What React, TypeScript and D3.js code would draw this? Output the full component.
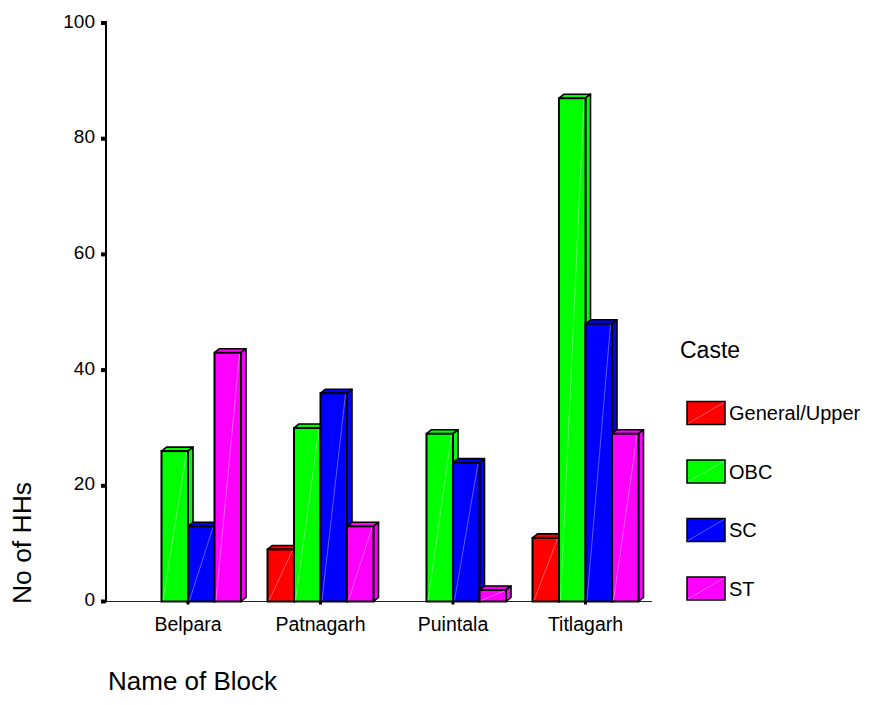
import React from "react";
import * as d3 from "d3";

// Households by caste across four blocks
const blocks = ["Belpara", "Patnagarh", "Puintala", "Titlagarh"];
const castes = ["General/Upper", "OBC", "SC", "ST"];
const generalUpper = [0, 9, 0, 11];
const obc = [26, 30, 29, 87];
const sc = [13, 36, 24, 48];
const st = [43, 13, 2, 29];
const casteColors = ["#ff0000", "#00ff00", "#0000ff", "#ff00ff"];
const yTicks = [0, 20, 40, 60, 80, 100];

const seriesValues = [generalUpper, obc, sc, st];

const W = 871;
const H = 705;
const FONT = "'Liberation Sans', Arial, Helvetica, sans-serif";
const DX = 5; // depth offset to the right
const DY = 4; // depth offset upward

export default function App() {
  const y = d3.scaleLinear().domain([0, 100]).range([601.5, 23]);
  const x0 = d3
    .scaleBand<string>()
    .domain(blocks)
    .range([121.75, 651.75])
    .paddingInner(0.2)
    .paddingOuter(0.1);
  const x1 = d3.scaleBand<string>().domain(castes).range([0, x0.bandwidth()]);
  const axisX = 106;
  const base = y(0);

  const bars: React.ReactNode[] = [];
  blocks.forEach((b, bi) => {
    castes.forEach((c, ci) => {
      const v = seriesValues[ci][bi];
      if (!v) return;
      const left = (x0(b) as number) + (x1(c) as number);
      const right = left + x1.bandwidth();
      const top = y(v);
      const col = casteColors[ci];
      const topFace = `M${left},${top} L${left + DX},${top - DY} L${right + DX},${top - DY} L${right},${top} Z`;
      const sideFace = `M${right},${top} L${right + DX},${top - DY} L${right + DX},${base - DY} L${right},${base} Z`;
      bars.push(
        <g key={`${b}-${c}`}>
          <path d={topFace} fill={col} stroke="#000" strokeWidth={1.6} strokeLinejoin="round" />
          <path d={sideFace} fill={col} stroke="#000" strokeWidth={1.6} strokeLinejoin="round" />
          <rect x={left} y={top} width={right - left} height={base - top} fill={col} stroke="#000" strokeWidth={2} />
          <line x1={left + 1.5} y1={base - 1} x2={right - 1.5} y2={top + 1} stroke="#fff" strokeOpacity={0.45} strokeWidth={0.8} />
        </g>
      );
    });
  });

  const legendX = 687;
  const legendY0 = 401.5;
  const legendStep = 58.5;

  return (
    <svg
      width={W}
      height={H}
      viewBox={`0 0 ${W} ${H}`}
      style={{ position: "absolute", left: 0, top: 0, background: "#fff" }}
      fontFamily={FONT}
    >
      <rect width={W} height={H} fill="#fff" />
      {/* x baseline */}
      <line x1={axisX} y1={base} x2={652} y2={base} stroke="#222" strokeWidth={1.2} />
      {bars}
      {/* y axis */}
      <line x1={axisX} y1={y(100) - 2} x2={axisX} y2={base + 1} stroke="#000" strokeWidth={2} />
      {yTicks.map((t) => (
        <g key={t}>
          <rect x={axisX - 5} y={y(t) - 2} width={4.5} height={4} fill="#000" />
          <text x={axisX - 11} y={y(t) - 2} dy="0.35em" textAnchor="end" fontSize={19} fill="#000">
            {t}
          </text>
        </g>
      ))}
      {/* block ticks and labels */}
      {blocks.map((b) => {
        const cx = (x0(b) as number) + x0.bandwidth() / 2;
        return (
          <g key={b}>
            <rect x={cx - 1.5} y={base} width={3} height={3} fill="#000" />
            <text x={cx} y={631} textAnchor="middle" fontSize={19.5} fill="#000">
              {b}
            </text>
          </g>
        );
      })}
      {/* axis titles */}
      <text transform="translate(31,543) rotate(-90)" textAnchor="middle" fontSize={26.5} fill="#000">
        No of HHs
      </text>
      <text x={108} y={690} fontSize={26} fill="#000">
        Name of Block
      </text>
      {/* legend */}
      <text x={680} y={358} fontSize={23} fill="#000">
        Caste
      </text>
      {castes.map((c, i) => {
        const ly = legendY0 + i * legendStep;
        return (
          <g key={c}>
            <rect x={legendX} y={ly} width={38} height={23} fill={casteColors[i]} stroke="#000" strokeWidth={1.5} />
            <line x1={legendX + 1} y1={ly + 22} x2={legendX + 37} y2={ly + 1} stroke="#fff" strokeOpacity={0.45} strokeWidth={0.8} />
            <text x={legendX + 42} y={ly + 11.5} dy="0.35em" fontSize={20} fill="#000">
              {c}
            </text>
          </g>
        );
      })}
    </svg>
  );
}
